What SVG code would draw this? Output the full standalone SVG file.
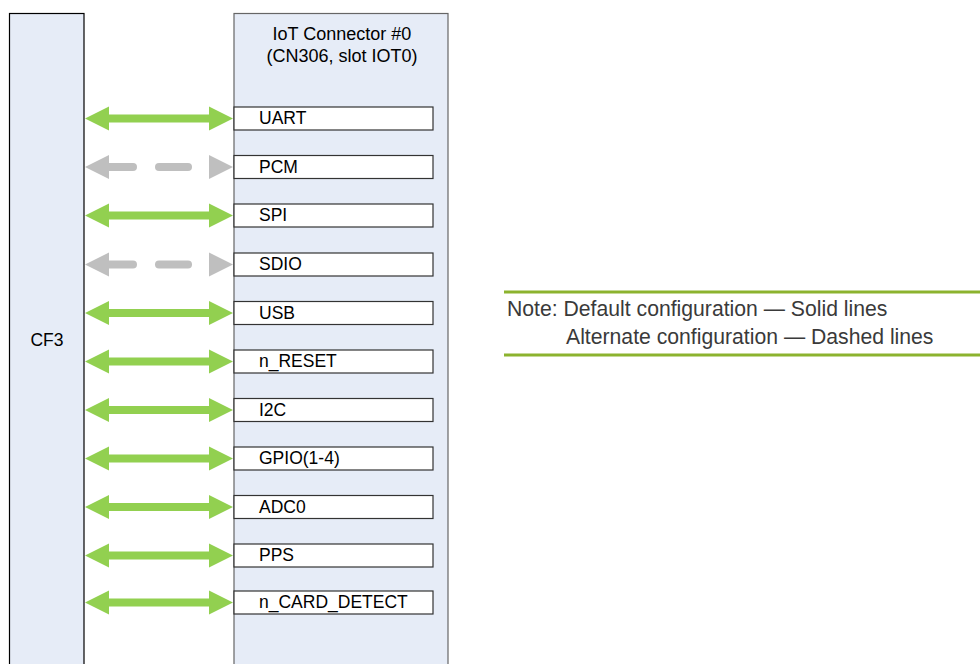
<svg xmlns="http://www.w3.org/2000/svg" width="980" height="664" viewBox="0 0 980 664">
<defs>
<style>
text{font-family:"Liberation Sans",Arial,sans-serif;font-size:17.5px;fill:#000}
.hdr{font-size:18px}
.blk{fill:#e6ecf7}
.sig{fill:#fff;stroke:#333;stroke-width:1.2}
.note{fill:#3a3a3a;font-size:21.2px}
.g{fill:#92d050}
.gr{fill:#bfbfbf}
</style>
</defs>
<rect width="980" height="664" fill="#fff"/>
<g id="CF3">
<rect class="blk" x="9.5" y="13.5" width="74.5" height="660" stroke="#000" stroke-width="1.2"/>
<text x="47" y="346" text-anchor="middle">CF3</text>
</g>
<g id="IoT">
<rect class="blk" x="234" y="13.5" width="214" height="660" stroke="#666" stroke-width="1.2"/>
<text class="hdr" x="342" y="39.5" text-anchor="middle">IoT Connector #0</text>
<text class="hdr" x="342" y="61.5" text-anchor="middle">(CN306, slot IOT0)</text>
</g>
<g id="signals">
<g id="UART"><rect class="sig" x="234" y="107" width="199" height="23"/><text x="259" y="124">UART</text></g>
<g id="PCM"><rect class="sig" x="234" y="155.5" width="199" height="23"/><text x="259" y="172.5">PCM</text></g>
<g id="SPI"><rect class="sig" x="234" y="204" width="199" height="23"/><text x="259" y="221">SPI</text></g>
<g id="SDIO"><rect class="sig" x="234" y="253" width="199" height="23"/><text x="259" y="270">SDIO</text></g>
<g id="USB"><rect class="sig" x="234" y="301.5" width="199" height="23"/><text x="259" y="318.5">USB</text></g>
<g id="n_RESET"><rect class="sig" x="234" y="350" width="199" height="23"/><text x="259" y="367">n_RESET</text></g>
<g id="I2C"><rect class="sig" x="234" y="398.5" width="199" height="23"/><text x="259" y="415.5">I2C</text></g>
<g id="GPIO"><rect class="sig" x="234" y="447" width="199" height="23"/><text x="259" y="464">GPIO(1-4)</text></g>
<g id="ADC0"><rect class="sig" x="234" y="495.5" width="199" height="23"/><text x="259" y="512.5">ADC0</text></g>
<g id="PPS"><rect class="sig" x="234" y="544" width="199" height="23"/><text x="259" y="561">PPS</text></g>
<g id="n_CARD_DETECT"><rect class="sig" x="234" y="591" width="199" height="23"/><text x="259" y="608">n_CARD_DETECT</text></g>
</g>
<g id="connectors">
<polygon class="g" points="85,118.5 109,106.5 109,114.5 209,114.5 209,106.5 233,118.5 209,130.5 209,122.5 109,122.5 109,130.5"/>
<g class="gr">
<path d="M85,167 L109,155 L109,163 L133,163 A4,4 0 0 1 133,171 L109,171 L109,179 Z"/>
<rect x="155" y="163" width="37" height="8" rx="4"/>
<polygon points="209,155 233,167 209,179"/>
</g>
<polygon class="g" points="85,215.5 109,203.5 109,211.5 209,211.5 209,203.5 233,215.5 209,227.5 209,219.5 109,219.5 109,227.5"/>
<g class="gr">
<path d="M85,264.5 L109,252.5 L109,260.5 L133,260.5 A4,4 0 0 1 133,268.5 L109,268.5 L109,276.5 Z"/>
<rect x="155" y="260.5" width="37" height="8" rx="4"/>
<polygon points="209,252.5 233,264.5 209,276.5"/>
</g>
<polygon class="g" points="85,313 109,301 109,309 209,309 209,301 233,313 209,325 209,317 109,317 109,325"/>
<polygon class="g" points="85,361.5 109,349.5 109,357.5 209,357.5 209,349.5 233,361.5 209,373.5 209,365.5 109,365.5 109,373.5"/>
<polygon class="g" points="85,410 109,398 109,406 209,406 209,398 233,410 209,422 209,414 109,414 109,422"/>
<polygon class="g" points="85,458.5 109,446.5 109,454.5 209,454.5 209,446.5 233,458.5 209,470.5 209,462.5 109,462.5 109,470.5"/>
<polygon class="g" points="85,507 109,495 109,503 209,503 209,495 233,507 209,519 209,511 109,511 109,519"/>
<polygon class="g" points="85,555.5 109,543.5 109,551.5 209,551.5 209,543.5 233,555.5 209,567.5 209,559.5 109,559.5 109,567.5"/>
<polygon class="g" points="85,602.5 109,590.5 109,598.5 209,598.5 209,590.5 233,602.5 209,614.5 209,606.5 109,606.5 109,614.5"/>
</g>
<g id="note">
<rect x="504" y="290.5" width="476" height="3" fill="#8cb32e"/>
<rect x="504" y="353.5" width="476" height="3" fill="#8cb32e"/>
<text class="note" x="507" y="315.5">Note: Default configuration — Solid lines</text>
<text class="note" x="566" y="343.5">Alternate configuration — Dashed lines</text>
</g>
</svg>
